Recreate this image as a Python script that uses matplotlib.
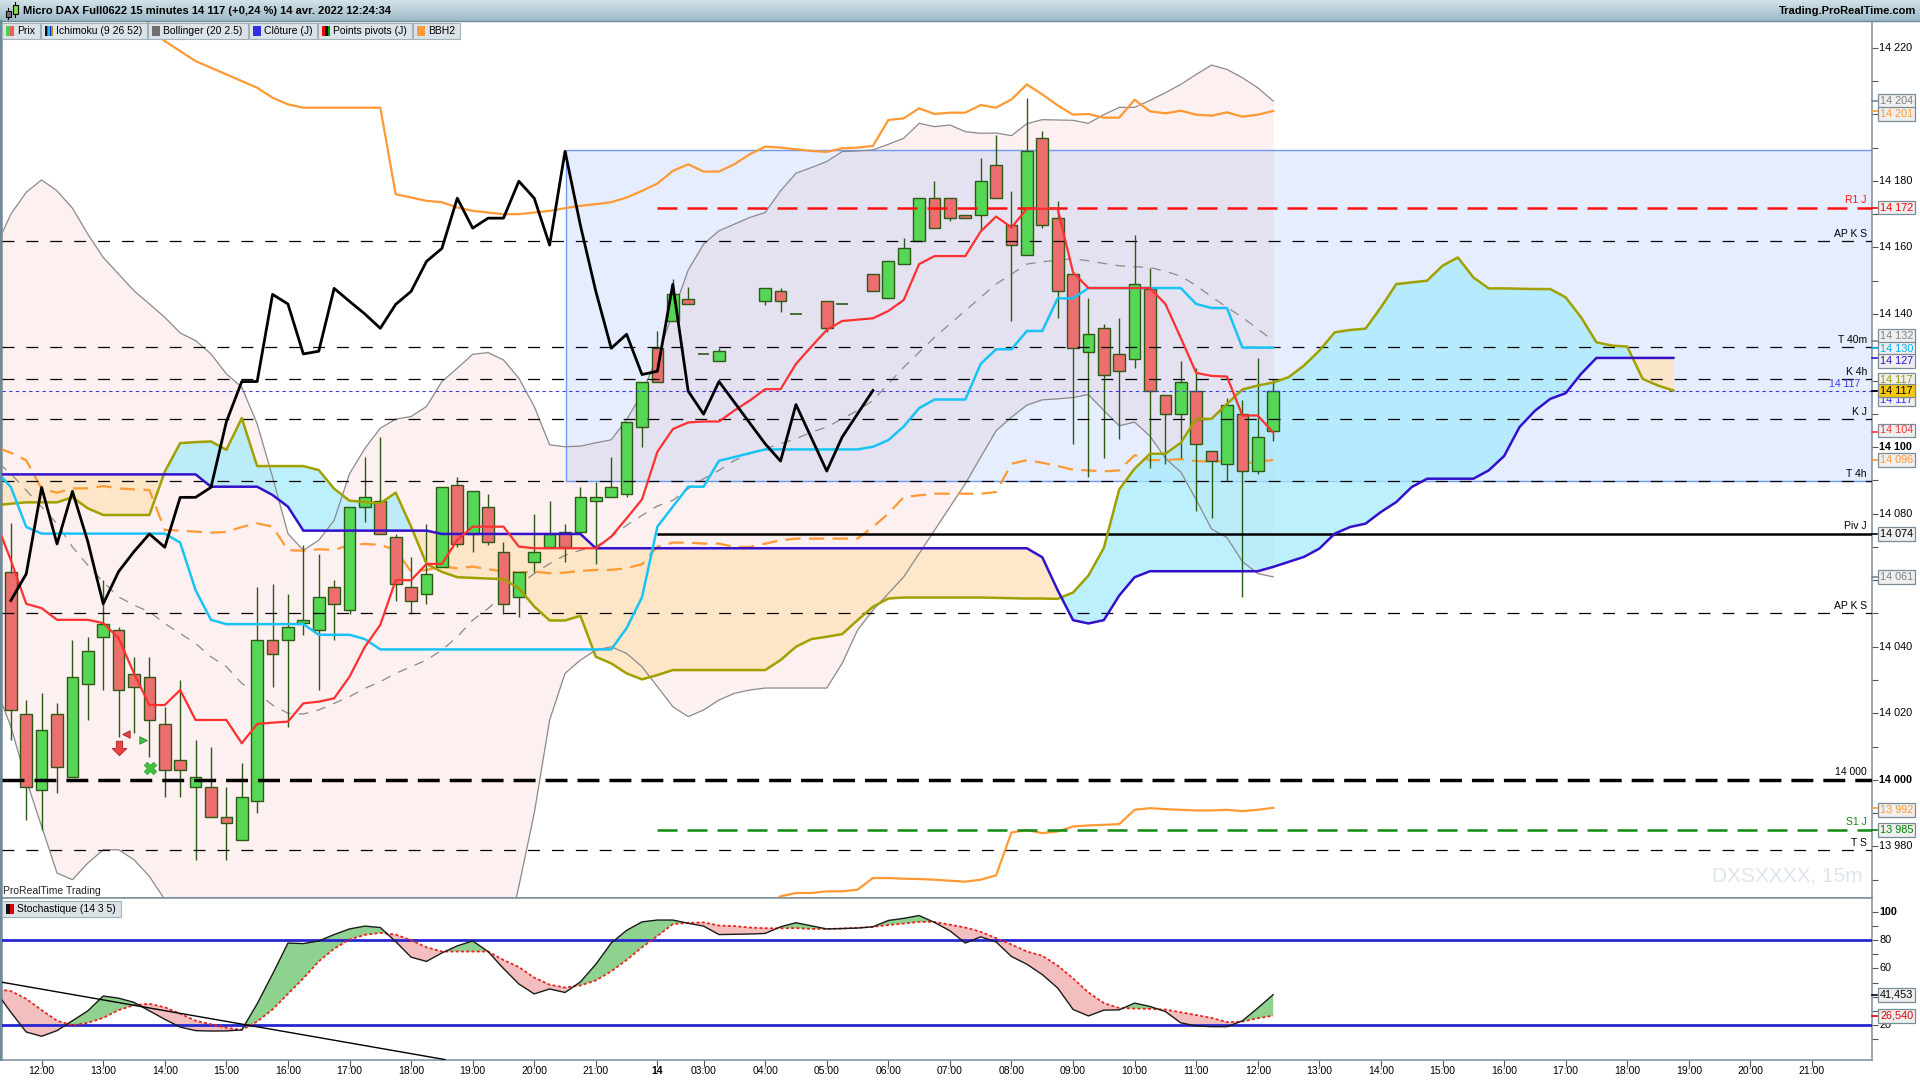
import numpy as np
import matplotlib
matplotlib.use("Agg")
import matplotlib.pyplot as plt
import matplotlib.transforms as mtransforms
from matplotlib.patches import Rectangle
from matplotlib.path import Path

plt.rcParams["font.family"] = ["Liberation Sans", "DejaVu Sans"]
plt.rcParams["lines.scale_dashes"] = False

# === DATA ===
# x = 15-minute slot, 0 = 12:00 on 13 April; empty slots have no trade
candle_slots = np.arange(-2, 81)
nan = np.nan
opens = [14062.6, 14019.7, 13997.0, 14019.7, 14000.8, 14028.8, 14042.9, 14045.0, 14031.7, 14030.8,
         14016.7, 14006.0, 13998.0, 13997.8, 13988.8, 13982.0, 13993.8, 14041.9, 14042.0, 14047.0,
         14045.0, 14057.9, 14051.1, 14081.9, 14083.7, 14072.9, 14057.9, 14055.9, 14063.9, 14088.7,
         14073.9, 14081.9, 14068.6, 14054.9, 14065.6, 14069.9, 14074.6, 14074.6, 14083.7, 14084.9,
         14085.9, 14105.9, 14129.7, 14137.9, 14144.4, 14128.0, 14125.8, nan, nan, 14143.8,
         14146.8, 14140.0, nan, 14143.8, 14142.9, nan, 14151.9, 14144.7, 14154.9, 14161.8,
         14174.8, 14174.8, 14169.7, 14169.7, 14184.7, 14166.6, 14157.6, 14192.8, 14168.7, 14152.0,
         14128.7, 14135.7, 14127.9, 14126.6, 14147.6, 14115.7, 14109.9, 14116.8, 14098.7, 14094.8,
         14109.9, 14092.8, 14104.9]
highs = [14077.1, 14024.0, 14026.0, 14023.0, 14042.0, 14043.0, 14060.0, 14046.0, 14037.0, 14037.0,
         14022.0, 14030.0, 14012.0, 14010.0, 13998.0, 14005.0, 14058.0, 14059.0, 14056.0, 14070.6,
         14068.0, 14060.0, 14081.9, 14097.1, 14103.1, 14073.9, 14067.0, 14076.9, 14087.9, 14091.1,
         14086.7, 14085.9, 14071.6, 14062.6, 14079.9, 14083.9, 14076.9, 14087.9, 14089.6, 14097.1,
         14107.6, 14119.7, 14135.0, 14150.5, 14148.0, 14128.0, 14129.7, nan, nan, 14147.7,
         14147.7, 14140.0, nan, 14143.8, 14142.9, nan, 14151.9, 14155.8, 14162.8, 14174.8,
         14180.1, 14174.8, 14169.7, 14186.8, 14193.8, 14177.0, 14205.0, 14194.9, 14174.0, 14152.0,
         14144.7, 14137.0, 14138.8, 14163.7, 14153.7, 14115.7, 14125.8, 14123.7, 14098.7, 14114.7,
         14114.2, 14126.8, 14120.6]
lows = [14012.0, 13988.0, 13985.0, 13996.0, 14000.8, 14018.0, 14027.0, 14013.0, 14014.0, 14007.0,
        13995.0, 13995.0, 13976.0, 13988.8, 13976.0, 13982.0, 13990.0, 14028.0, 14016.0, 14043.5,
        14027.0, 14042.0, 14049.9, 14077.6, 14073.9, 14053.9, 14049.9, 14052.9, 14063.9, 14069.9,
        14068.6, 14070.6, 14049.9, 14048.9, 14062.6, 14069.9, 14065.6, 14074.6, 14064.9, 14084.9,
        14084.9, 14099.9, 14119.7, 14137.9, 14143.0, 14128.0, 14125.8, nan, nan, 14142.8,
        14140.7, 14140.0, nan, 14134.7, 14142.9, nan, 14146.8, 14144.7, 14154.9, 14161.8,
        14165.8, 14167.8, 14168.8, 14165.3, 14174.8, 14137.8, 14157.6, 14165.9, 14138.7, 14100.8,
        14090.9, 14096.8, 14102.3, 14123.7, 14093.7, 14094.8, 14096.8, 14080.9, 14078.8, 14089.9,
        14055.0, 14092.0, 14101.8]
closes = [14021.0, 13997.8, 14015.0, 14003.8, 14030.8, 14038.8, 14046.8, 14027.0, 14027.8, 14018.0,
          14003.0, 14003.0, 14000.8, 13988.8, 13987.0, 13994.8, 14041.9, 14037.9, 14046.0, 14048.0,
          14054.9, 14052.9, 14081.9, 14084.9, 14073.9, 14058.9, 14053.9, 14061.9, 14087.9, 14070.9,
          14086.7, 14071.6, 14052.9, 14062.6, 14068.6, 14073.9, 14069.9, 14084.9, 14084.9, 14087.9,
          14107.6, 14119.7, 14119.7, 14145.9, 14143.0, 14128.0, 14128.8, nan, nan, 14147.7,
          14143.8, 14140.0, nan, 14135.7, 14142.9, nan, 14146.8, 14155.8, 14159.7, 14174.8,
          14165.8, 14168.8, 14168.8, 14179.9, 14174.8, 14160.7, 14188.9, 14166.6, 14146.8, 14129.7,
          14133.9, 14121.8, 14122.8, 14148.9, 14116.8, 14109.9, 14119.7, 14101.0, 14095.8, 14112.8,
          14092.8, 14103.0, 14117.0]

# indicators, slots -3 .. 80
ind_slots = np.arange(-3, 81)
tenkan = [14078, 14066, 14052.9, 14051.6, 14048.1, 14048.1, 14048.1, 14047.1, 14042.6, 14032,
          14022.5, 14022.5, 14027, 14018, 14018, 14018, 14011, 14016.8, 14017.2, 14017.5,
          14023, 14023.5, 14024.5, 14031, 14040, 14046.6, 14060, 14060, 14064.9, 14064.9,
          14072.1, 14076.1, 14076.1, 14076.1, 14070.1, 14069.6, 14069.6, 14069.6, 14069.6, 14069.6,
          14073.1, 14078.6, 14084.3, 14098.6, 14105.4, 14107.4, 14107.7, 14107.7, 14111, 14114,
          14117.4, 14117.4, 14125, 14130.2, 14135.2, 14137.9, 14138.3, 14138.7, 14140.9, 14144.2,
          14155, 14157.4, 14157.4, 14157.4, 14164.8, 14169.3, 14166, 14171.6, 14171.6, 14171.6,
          14152.5, 14147.8, 14147.8, 14147.8, 14147.8, 14147.8, 14143, 14132.8, 14122.3, 14121.4,
          14121.2, 14109.5, 14109.5, 14104.4]
kijun = [14093, 14088, 14076, 14074, 14074, 14074, 14074, 14074, 14074, 14074,
         14074, 14074, 14071.3, 14057, 14048.1, 14046.8, 14046.8, 14046.8, 14046.8, 14046.8,
         14046.8, 14043.6, 14043.6, 14043.6, 14042.3, 14039.2, 14039.2, 14039.2, 14039.2, 14039.2,
         14039.2, 14039.2, 14039.2, 14039.2, 14039.2, 14039.2, 14039.2, 14039.2, 14039.2, 14039.2,
         14039.2, 14045.6, 14054.9, 14076.1, 14082.1, 14088.1, 14088.1, 14095.9, 14097, 14098.2,
         14099.3, 14099.3, 14099.3, 14099.3, 14099.3, 14099.3, 14099.3, 14100.1, 14102.1, 14106.2,
         14111.7, 14114.3, 14114.3, 14114.3, 14125, 14129.4, 14129.4, 14134.9, 14134.9, 14144.7,
         14144.7, 14147.8, 14147.8, 14147.8, 14147.8, 14147.8, 14147.8, 14147.8, 14143, 14141.8,
         14141.8, 14129.9, 14129.9, 14129.9]
bb_upper = [14160, 14170, 14176.6, 14180.3, 14177, 14171.8, 14164, 14157, 14152, 14147,
            14143, 14139, 14134.3, 14132, 14128, 14122, 14118, 14107, 14091, 14074,
            14069, 14072, 14078, 14092, 14099.6, 14105.7, 14108.4, 14109.2, 14112.2, 14119.7,
            14123.7, 14127.9, 14128.4, 14126.2, 14120.7, 14112.2, 14100.7, 14100.1, 14100.3, 14101.3,
            14102.2, 14108.2, 14116.2, 14127.2, 14140.2, 14153.2, 14161, 14165, 14167, 14169,
            14170.5, 14177, 14182.3, 14184, 14185.8, 14188.8, 14189, 14189.3, 14191, 14192.8,
            14197.3, 14196.3, 14196.8, 14194.8, 14194.3, 14194.4, 14193.6, 14197.2, 14198.4, 14198.3,
            14198.2, 14197.3, 14199.9, 14202.1, 14202.1, 14204.2, 14206.5, 14209, 14212, 14214.8,
            14213.5, 14211, 14208, 14204]
bb_mid = [14096, 14092, 14087, 14082, 14077, 14070, 14064.5, 14059.5, 14055, 14052.5,
          14050.5, 14047, 14044, 14041, 14037, 14034, 14029, 14026, 14022.5, 14020,
          14019.8, 14021, 14023, 14025, 14027.5, 14029.5, 14032, 14034, 14036, 14039,
          14043, 14048, 14051.5, 14055.6, 14058.5, 14062, 14065, 14067.5, 14069, 14070.1,
          14073, 14076.5, 14079.5, 14082.3, 14084, 14087.5, 14090.5, 14093, 14096, 14098,
          14099.5, 14101, 14102.5, 14104.5, 14106, 14108.5, 14111, 14114, 14119, 14124,
          14128.5, 14133, 14137, 14141, 14145, 14149, 14152, 14155, 14155.7, 14156.2,
          14156.6, 14156, 14155.2, 14154.5, 14154.2, 14154, 14152.8, 14151.4, 14148.5, 14145.2,
          14142, 14139, 14135.5, 14132]
bb_lower = [14028, 14016, 14000, 13986, 13972, 13970, 13975, 13979, 13979, 13976,
            13971, 13964, 13958, 13952, 13948, 13946, 13945, 13944, 13944, 13943,
            13942, 13940, 13938, 13938, 13940, 13942, 13944, 13945, 13946, 13946,
            13946, 13945, 13944, 13948, 13968, 13990, 14018, 14032, 14036, 14039,
            14040, 14038, 14034, 14028, 14022, 14019, 14021, 14024, 14026, 14027,
            14027.6, 14027.6, 14027.6, 14027.6, 14027.6, 14035, 14045, 14051, 14056, 14061,
            14068, 14075, 14082, 14089, 14097, 14104.9, 14109, 14112.6, 14114.2, 14114.5,
            14114.9, 14115.8, 14111, 14106.4, 14107.5, 14103.3, 14096.6, 14092.5, 14084.2, 14075.4,
            14072.8, 14065.6, 14062, 14061]
bbh2_upper = [14240, 14240, 14240, 14240, 14240, 14240, 14240, 14240, 14240, 14240,
              14226, 14222, 14219, 14216, 14214, 14212, 14210, 14208, 14205, 14203,
              14202, 14202, 14202, 14202, 14202, 14202, 14176, 14175, 14174, 14173.6,
              14172, 14171, 14170.5, 14170, 14170, 14170.5, 14171, 14171.8, 14172.5, 14173,
              14173.6, 14175, 14177, 14179.2, 14183, 14185, 14182.8, 14182.8, 14185, 14188,
              14190.3, 14190, 14189.5, 14189, 14188.7, 14189.8, 14190, 14190.5, 14198.3, 14198.8,
              14201.8, 14200.1, 14200.5, 14200.5, 14202.8, 14202, 14204.5, 14209, 14206, 14202.7,
              14199.9, 14200.1, 14199, 14199, 14204.4, 14200.9, 14200.3, 14201.1, 14199.9, 14199.6,
              14200.6, 14199.3, 14199.9, 14201]
bbh2_mid = [14100, 14098.3, 14096, 14087.5, 14086.3, 14087.6, 14087.6, 14088.3, 14087.6, 14087.3,
            14087.1, 14075.1, 14074.9, 14074.6, 14074.3, 14074.5, 14076, 14077.1, 14076.1, 14069,
            14068.9, 14069.3, 14069.1, 14070.6, 14070.9, 14070.6, 14069.1, 14062.6, 14063.1, 14064.1,
            14063.6, 14064.1, 14063.3, 14062.6, 14062.3, 14062.6, 14062.1, 14062.3, 14062.8, 14063.1,
            14063.1, 14063.6, 14064.8, 14070.1, 14071.3, 14071.3, 14071, 14071, 14070, 14070,
            14071, 14072, 14072.5, 14072.5, 14072.5, 14072.5, 14072.5, 14076, 14080, 14085,
            14085.5, 14086, 14086, 14086, 14086, 14086.5, 14095, 14096.1, 14095.3, 14094.3,
            14093.2, 14093, 14092.7, 14093, 14097.6, 14096.1, 14096.1, 14096.4, 14095.8, 14095.6,
            14095.8, 14095, 14095.6, 14096.1]
bbh2_lower = [13958, 13956, 13954, 13950, 13948, 13948, 13947, 13947, 13946, 13946,
              13946, 13934, 13934, 13933, 13933, 13933, 13935, 13936, 13936, 13936,
              13936, 13937, 13937, 13938, 13939, 13939, 13951, 13952, 13954, 13955,
              13956, 13956, 13956, 13955, 13955, 13955, 13954, 13954, 13953, 13953,
              13953, 13953, 13952, 13954, 13956, 13957, 13958, 13957, 13957, 13958,
              13962, 13965, 13966, 13966, 13966.5, 13966.5, 13967, 13970.5, 13970.5, 13970.3,
              13970.2, 13970, 13969.7, 13969.4, 13970, 13971.3, 13984.2, 13984.9, 13984, 13984.5,
              13986, 13986.3, 13986.5, 13986.7, 13991, 13991.5, 13991.2, 13991, 13990.8, 13990.8,
              13991, 13990.6, 13991, 13991.6]
stoch_k = [44, 29, 15, 12, 16, 23, 30, 40.5, 39, 36,
           30, 24, 18.5, 16, 15.7, 15.8, 16.5, 35, 56, 78,
           77.6, 79.5, 84, 88, 90, 89, 79, 68, 65, 71,
           76, 79.5, 72, 60, 49, 42, 45.5, 43, 50.5, 63,
           78, 87, 93, 94.3, 94.3, 92, 90, 84, 84.2, 84.4,
           84.8, 89.5, 92.4, 90.2, 88, 88.3, 88.6, 89.5, 94, 95.5,
           97.5, 92.6, 86.7, 78, 82.4, 78.8, 68.5, 63, 55.7, 46.2,
           31, 26.4, 30.5, 30.7, 35.5, 33.1, 29.5, 21.5, 19.3, 18.8,
           18.8, 22.9, 32, 41.453]
stoch_d = [45.5, 44, 38.5, 30.5, 23, 19.8, 21.5, 25, 30.5, 34,
           35, 32.5, 28, 23, 20.5, 18, 16.5, 22.4, 31, 42,
           53, 65, 74, 80.5, 83.8, 85.2, 84, 80, 75, 72,
           72, 72, 72, 66, 61, 53.5, 48.5, 46.5, 48, 51.5,
           58, 66, 75, 83, 91.4, 92.3, 92.6, 90.4, 90, 89,
           88.5, 88.4, 88.6, 88, 88, 88.2, 88.8, 89.5, 90.8, 91.8,
           93, 93, 91, 89, 86, 81.5, 77, 72, 69, 62,
           53, 43, 35.5, 32, 31.6, 31.4, 30.9, 29, 27, 25,
           22, 22.4, 24.8, 26.54]

# Ichimoku cloud, projected 26 slots ahead: slots -3 .. 106
cloud_slots = np.arange(-3, 107)
senkou_a = [14082.5, 14083, 14083.4, 14083.4, 14083.4, 14084.9, 14081.6, 14079.6, 14079.6, 14079.6,
            14079.6, 14092.6, 14101.2, 14101.5, 14101.7, 14099.2, 14108.7, 14094.3, 14094.3, 14094.3,
            14094.3, 14093.1, 14087.5, 14083.9, 14083.5, 14083.1, 14086.3, 14076.1, 14064.9, 14062.5,
            14060.9, 14060.7, 14060.5, 14060.3, 14057.6, 14052.1, 14047.9, 14047.9, 14049.3, 14037,
            14035, 14032, 14030.2, 14031.5, 14033, 14033, 14033, 14033, 14033, 14033,
            14033, 14036, 14040, 14042.3, 14043, 14043.8, 14048, 14052, 14054.5, 14054.8,
            14054.8, 14054.8, 14054.8, 14054.8, 14054.8, 14054.7, 14054.6, 14054.5, 14054.5, 14054.4,
            14056.3, 14061.4, 14069.7, 14087.3, 14093.5, 14098, 14098, 14101.3, 14108.5, 14108.5,
            14113, 14117.3, 14118.5, 14119.4, 14121, 14124.5, 14129, 14134.5, 14135.2, 14135.6,
            14142, 14149, 14149.5, 14150, 14154.5, 14157, 14151, 14147.7, 14147.7, 14147.6,
            14147.5, 14147.5, 14145, 14139, 14131.5, 14130.5, 14130.2, 14120.5, 14118.5, 14117]
senkou_b = [14091.8, 14091.8, 14091.8, 14091.8, 14091.8, 14091.8, 14091.8, 14091.8, 14091.8, 14091.8,
            14091.8, 14091.8, 14091.8, 14091.8, 14088.1, 14088.1, 14088.1, 14088.1, 14085.6, 14082.1,
            14074.9, 14074.9, 14074.9, 14074.9, 14074.9, 14074.9, 14074.9, 14074.9, 14074.9, 14073.9,
            14073.9, 14073.9, 14073.9, 14073.9, 14073.9, 14073.9, 14073.9, 14073.9, 14073.9, 14069.6,
            14069.6, 14069.6, 14069.6, 14069.6, 14069.6, 14069.6, 14069.6, 14069.6, 14069.6, 14069.6,
            14069.6, 14069.6, 14069.6, 14069.6, 14069.6, 14069.6, 14069.6, 14069.6, 14069.6, 14069.6,
            14069.6, 14069.6, 14069.6, 14069.6, 14069.6, 14069.6, 14069.6, 14069.6, 14066.9, 14057,
            14048, 14047, 14048, 14055.4, 14060.9, 14062.7, 14062.7, 14062.7, 14062.7, 14062.7,
            14062.7, 14062.7, 14062.7, 14064, 14065.5, 14067, 14069.5, 14074, 14076, 14077,
            14080.5, 14083.5, 14088, 14090.5, 14090.5, 14090.5, 14090.5, 14093, 14097.3, 14106,
            14110.9, 14114.5, 14116.2, 14122, 14126.8, 14126.8, 14126.8, 14126.8, 14126.8, 14126.8]

# horizontal levels
level_values = [14162, 14130, 14120.5, 14108.5, 14089.8, 14050, 13979]
level_names = ["AP K S", "T 40m", "K 4h", "K J", "T 4h", "AP K S", "T S"]
round_level = 14000
pivot_values = [14172, 14074, 13985]
pivot_names = ["R1 J", "Piv J", "S1 J"]
pivot_start = 40
prev_close = 14117
zone_start, zone_low, zone_high = 34.05, 14089.8, 14189.2

# signal markers and the stochastic trend line
signal_x = [5.03, 5.5, 6.6, 7.05]
signal_y = [14009.5, 14013.7, 14012.0, 14003.5]
trend_x = [-2.7, 26.2]
trend_y = [50.5, -4.5]

tick_slots = [0, 4, 8, 12, 16, 20, 24, 28, 32, 36, 40, 43, 47, 51, 55, 59, 63, 67, 71, 75,
              79, 83, 87, 91, 95, 99, 103, 107, 111, 115]
tick_labels = ["12:00", "13:00", "14:00", "15:00", "16:00", "17:00", "18:00", "19:00", "20:00", "21:00",
               "14", "03:00", "04:00", "05:00", "06:00", "07:00", "08:00", "09:00", "10:00", "11:00",
               "12:00", "13:00", "14:00", "15:00", "16:00", "17:00", "18:00", "19:00", "20:00", "21:00"]
price_labels = [14220, 14180, 14160, 14140, 14100, 14080, 14040, 14020, 14000, 13980]

title = "Micro DAX Full0622 15 minutes 14 117 (+0,24 %) 14 avr. 2022 12:24:34"
legend_items = [("Prix", ["#4ccf4c", "#e86060"]),
                ("Ichimoku (9 26 52)", ["#111111", "#ff2a2a", "#19c3f5", "#3311cc", "#a0a000"]),
                ("Bollinger (20 2.5)", ["#6e6e6e"]),
                ("Clôture (J)", ["#3030e0"]),
                ("Points pivots (J)", ["#ff0000", "#111111", "#00a000"]),
                ("BBH2", ["#ff9a3c"])]

# === convert ===
o = np.array(opens, float); h = np.array(highs, float)
l = np.array(lows, float); c = np.array(closes, float)
tenkan = np.array(tenkan); kijun = np.array(kijun)
senkou_a = np.array(senkou_a); senkou_b = np.array(senkou_b)
stoch_k = np.array(stoch_k); stoch_d = np.array(stoch_d)

# chikou = close shifted back 26 traded bars
valid = ~np.isnan(c)
bar_x = candle_slots[valid]
bar_c = c[valid]
chikou_x = bar_x[:-26]
chikou_y = bar_c[26:]

# === figure layout (pixel frame of 1920x1080) ===
W, H = 1920.0, 1080.0
fig = plt.figure(figsize=(19.2, 10.8), dpi=100)


def frame(x0, y0, x1, y1):
    return [x0 / W, 1 - y1 / H, (x1 - x0) / W, (y1 - y0) / H]


ax = fig.add_axes(frame(2, 22, 1872, 898))
axs = fig.add_axes(frame(2, 898, 1872, 1060), sharex=ax)
ax.set_xlim(-2.575, 118.9)
ax.set_ylim(13964.5, 14227.75)
axs.set_ylim(-4.8, 109.9)
AXW = 1870.0
PPX = (14227.75 - 13964.5) / 876.0  # price per pixel

ytr = mtransforms.blended_transform_factory(ax.transAxes, ax.transData)
ytr_s = mtransforms.blended_transform_factory(axs.transAxes, axs.transData)
xtr_s = mtransforms.blended_transform_factory(axs.transData, axs.transAxes)

for a in (ax, axs):
    for side in ("left", "right", "bottom", "top"):
        a.spines[side].set_color("#7d8e98")
        a.spines[side].set_linewidth(1.1)
ax.spines["top"].set_visible(False)

# -----------------------------------------------------------
# Price panel: background zones
# -----------------------------------------------------------
ax.fill_between(ind_slots, bb_lower, bb_upper, color="#fdf0f0", lw=0, zorder=1)
ax.add_patch(Rectangle((zone_start, zone_low), 200, zone_high - zone_low,
                       fc=(0.5, 0.65, 0.98, 0.2), ec="#6e9bef", lw=1.0, zorder=1.5))
ax.fill_between(cloud_slots, senkou_a, senkou_b, where=senkou_a >= senkou_b, interpolate=True,
                color="#a6ebfc", alpha=0.75, lw=0, zorder=2)
ax.fill_between(cloud_slots, senkou_a, senkou_b, where=senkou_a < senkou_b, interpolate=True,
                color="#fee4c0", alpha=0.85, lw=0, zorder=2)

# -----------------------------------------------------------
# Horizontal levels
# -----------------------------------------------------------
for v, name in zip(level_values, level_names):
    ax.axhline(v, color="black", lw=0.9, dashes=(8.6, 8.6), zorder=5.5)
    ax.text(0.9973, v + 2 * PPX, name, transform=ytr, ha="right", va="bottom", fontsize=7.5, zorder=9)
ax.axhline(round_level, color="black", lw=2.5, dashes=(15.8, 7.2), zorder=5.5)
ax.text(0.9973, round_level + 3 * PPX, "14 000", transform=ytr, ha="right", va="bottom",
        fontsize=7.5, zorder=9)
ax.axhline(prev_close, color="#3a3ae0", lw=0.8, dashes=(2.4, 2.4), zorder=5.5)
ax.text(0.9936, prev_close + 1.5 * PPX, "14 117", transform=ytr, ha="right", va="bottom",
        fontsize=7.5, color="#3a3ae0", zorder=9)

pivot_colours = ["#ff1010", "black", "#108a10"]
for v, name, col in zip(pivot_values, pivot_names, pivot_colours):
    if name == "Piv J":
        ax.hlines(v, pivot_start, 130, color=col, lw=1.8, zorder=5.5)
    else:
        ax.hlines(v, pivot_start, 130, color=col, lw=1.8, linestyles=(0, (14.4, 7.2)), zorder=5.5)
    ax.text(0.9973, v + 2.5 * PPX, name, transform=ytr, ha="right", va="bottom", fontsize=7.5,
            color=col, zorder=9)

# -----------------------------------------------------------
# Bollinger and BBH2 bands
# -----------------------------------------------------------
ax.plot(ind_slots, bb_upper, color="#8a8a8a", lw=0.9, zorder=4)
ax.plot(ind_slots, bb_lower, color="#8a8a8a", lw=0.9, zorder=4)
ax.plot(ind_slots, bb_mid, color="#8a8a8a", lw=0.9, dashes=(7, 6), zorder=4)
ax.plot(ind_slots, bbh2_upper, color="#ff9933", lw=1.6, zorder=4)
ax.plot(ind_slots, bbh2_lower, color="#ff9933", lw=1.6, zorder=4)
ax.plot(ind_slots, bbh2_mid, color="#ff9933", lw=1.6, dashes=(11, 6), zorder=4)

# -----------------------------------------------------------
# Candles
# -----------------------------------------------------------
edge = "#2d5a14"
up = valid & (c > o)
dn = valid & (c < o)
flat = valid & (c == o)
ax.vlines(candle_slots[valid], l[valid], h[valid], color=edge, lw=1.0, zorder=5)
ax.bar(candle_slots[up], c[up] - o[up], bottom=o[up], width=0.76, color="#55d655",
       edgecolor=edge, lw=1.0, zorder=5.1)
ax.bar(candle_slots[dn], o[dn] - c[dn], bottom=c[dn], width=0.76, color="#ec6e6e",
       edgecolor=edge, lw=1.0, zorder=5.1)
ax.hlines(c[flat], candle_slots[flat] - 0.38, candle_slots[flat] + 0.38, color=edge, lw=1.2, zorder=5.1)

# -----------------------------------------------------------
# Ichimoku lines
# -----------------------------------------------------------
ax.plot(cloud_slots, senkou_a, color="#a0a000", lw=1.8, zorder=6)
ax.plot(cloud_slots, senkou_b, color="#3311cc", lw=1.8, zorder=6)
ax.plot(ind_slots, kijun, color="#19c3f5", lw=1.8, zorder=6.1)
ax.plot(ind_slots, tenkan, color="#ff3030", lw=1.6, zorder=6.2)
ax.plot(chikou_x, chikou_y, color="black", lw=2.0, zorder=7)

# signals
arrow = Path([(-0.22, 0.5), (0.22, 0.5), (0.22, 0.0), (0.5, 0.0), (0.0, -0.5), (-0.5, 0.0),
              (-0.22, 0.0), (-0.22, 0.5)],
             [Path.MOVETO] + [Path.LINETO] * 6 + [Path.CLOSEPOLY])
ax.scatter(signal_x[0], signal_y[0], marker=arrow, s=110, c="#e84545", edgecolors="#b02020",
           linewidths=0.6, zorder=8)
ax.scatter(signal_x[1], signal_y[1], marker="<", s=28, c="#e84545", edgecolors="#a01818",
           linewidths=0.6, zorder=8)
ax.scatter(signal_x[2], signal_y[2], marker=">", s=28, c="#40c840", edgecolors="#208020",
           linewidths=0.6, zorder=8)
ax.scatter(signal_x[3], signal_y[3], marker="X", s=80, c="#3cc43c", edgecolors="#2a9a2a",
           linewidths=0.5, zorder=8)

# -----------------------------------------------------------
# Right price scale
# -----------------------------------------------------------
ax.yaxis.tick_right()
ax.set_yticks(np.arange(13970, 14230, 10))
ax.tick_params(axis="y", length=4, width=0.8, color="#555555", labelright=False)
ax.tick_params(axis="x", bottom=False, labelbottom=False)


def fmt(v):
    return f"{int(round(v)):,}".replace(",", " ")


for v in price_labels:
    ax.text(1 + 7 / AXW, v, fmt(v), transform=ytr, ha="left", va="center", fontsize=7.8,
            fontweight="bold" if v in (14100, 14000) else "normal", clip_on=False)

grey_bg = "#efefef"
tags = [
    (bb_upper[-1], "#808080", grey_bg, 0, 10),
    (bbh2_upper[-1], "#ff9933", grey_bg, 3, 10),
    (pivot_values[0], "#ff0000", grey_bg, 0, 10),
    (bb_mid[-1], "#808080", grey_bg, -5, 10),
    (kijun[-1], "#00b0f0", grey_bg, 1, 10.1),
    (senkou_b[-1], "#3311cc", grey_bg, 3, 10.2),
    (senkou_a[-1], "#999900", grey_bg, -11, 10.3),
    (prev_close, "#3333ff", grey_bg, 9, 10.3),
    (c[-1], "black", "#f6c90e", 0, 10.5),
    (tenkan[-1], "#ff3333", grey_bg, -2, 10),
    (bbh2_mid[-1], "#ff9933", grey_bg, 0, 10),
    (pivot_values[1], "black", grey_bg, 0, 10),
    (bb_lower[-1], "#808080", grey_bg, 0, 10),
    (bbh2_lower[-1], "#ff9933", grey_bg, 2, 10),
    (pivot_values[2], "#008000", grey_bg, 0, 10),
]
for v, col, bg, shift, z in tags:
    ax.plot([1, 1 + 5 / AXW], [v, v], transform=ytr, color=col, lw=1.2, clip_on=False, zorder=z)
    ax.text(1 + 8 / AXW, v - shift * PPX, fmt(v), transform=ytr, ha="left", va="center",
            fontsize=7.8, color=col, clip_on=False, zorder=z,
            bbox=dict(boxstyle="square,pad=0.18", fc=bg, ec="#7b8b95", lw=0.9))

# -----------------------------------------------------------
# Stochastic panel
# -----------------------------------------------------------
axs.fill_between(ind_slots, stoch_k, stoch_d, where=stoch_k >= stoch_d, interpolate=True,
                 color="#8fd18f", lw=0, zorder=2)
axs.fill_between(ind_slots, stoch_k, stoch_d, where=stoch_k < stoch_d, interpolate=True,
                 color="#f2bebe", lw=0, zorder=2)
axs.axhline(80, color="#2626d0", lw=2.0, zorder=3)
axs.axhline(20, color="#2626d0", lw=2.0, zorder=3)
axs.plot(ind_slots, stoch_d, color="#e8271f", lw=1.3, dashes=(2.2, 1.6), zorder=4)
axs.plot(ind_slots, stoch_k, color="#1a1a1a", lw=1.0, zorder=5)
axs.plot(trend_x, trend_y, color="black", lw=1.0, zorder=6)

axs.yaxis.tick_right()
axs.set_yticks(np.arange(10, 101, 10))
axs.tick_params(axis="y", length=4, width=0.8, color="#555555", labelright=False)
for v in (100, 80, 60, 20):
    axs.text(1 + 7 / AXW, v, str(v), transform=ytr_s, ha="left", va="center", fontsize=7.8,
             fontweight="bold" if v == 100 else "normal", clip_on=False)
for v, col in ((stoch_k[-1], "black"), (stoch_d[-1], "#e00000")):
    axs.plot([1, 1 + 5 / AXW], [v, v], transform=ytr_s, color=col, lw=1.2, clip_on=False, zorder=10)
    axs.text(1 + 8 / AXW, v, f"{v:.3f}".replace(".", ","), transform=ytr_s, ha="left", va="center",
             fontsize=7.8, color=col, clip_on=False, zorder=10,
             bbox=dict(boxstyle="square,pad=0.18", fc=grey_bg, ec="#7b8b95", lw=0.9))

axs.set_xticks(tick_slots)
axs.tick_params(axis="x", direction="out", length=5, width=0.8, color="#555555", labelbottom=False)
for x, lab in zip(tick_slots, tick_labels):
    axs.text(x, -0.068, lab, transform=xtr_s, ha="center", va="center", fontsize=7.5,
             fontweight="bold" if lab == "14" else "normal", clip_on=False)

# -----------------------------------------------------------
# Overlay: title bar, legends, watermark
# -----------------------------------------------------------
ov = fig.add_axes([0, 0, 1, 1])
ov.patch.set_alpha(0)
grad = np.linspace(0, 1, 21)[:, None, None]
top_c = np.array([0.82, 0.885, 0.91])
bot_c = np.array([0.62, 0.73, 0.78])
img = top_c * (1 - grad) + bot_c * grad
ov.imshow(np.repeat(img, 2, axis=1), extent=(0, W, 21, 0), aspect="auto", zorder=1)
ov.set_xlim(0, W)
ov.set_ylim(H, 0)
ov.axis("off")
ov.plot([0, W], [21, 21], color="#6f8a98", lw=1, zorder=2)
ov.plot([1, 1], [21, 1060], color="#6f8a98", lw=1.5, zorder=2)

# candle icon in the title bar
ov.plot([8, 8], [8, 19], color="black", lw=0.8, zorder=3)
ov.add_patch(Rectangle((5.5, 10.5), 5, 6, fc="#777777", ec="black", lw=0.8, zorder=4))
ov.plot([15, 15], [2, 17], color="black", lw=0.8, zorder=3)
ov.add_patch(Rectangle((12.5, 4.5), 5, 9, fc="#7ee03c", ec="black", lw=0.8, zorder=4))
ov.text(23, 11, title, fontsize=8, fontweight="bold", va="center", ha="left", zorder=5)
ov.text(1916, 11, "Trading.ProRealTime.com", fontsize=8, fontweight="bold", va="center",
        ha="right", zorder=5)

renderer = fig.canvas.get_renderer()


def legend_box(x, ytop, name, colours):
    t = ov.text(x + 15, ytop + 8, name, fontsize=7.5, va="center", ha="left", zorder=21)
    w = t.get_window_extent(renderer).width
    bw = 15 + w + 5
    ov.add_patch(Rectangle((x, ytop), bw, 16, fc="#dce3e8", ec="#a3b1ba", lw=0.8, zorder=20))
    iw = 8.0 / len(colours)
    for k, col in enumerate(colours):
        ov.add_patch(Rectangle((x + 4 + k * iw, ytop + 3), iw, 10, fc=col, ec="none", zorder=21))
    return x + bw + 1


xpos = 2.0
for name, colours in legend_items:
    xpos = legend_box(xpos, 22.5, name, colours)
legend_box(2.0, 900.5, "Stochastique (14 3 5)", ["#111111", "#e00000"])

ov.text(3, 891, "ProRealTime Trading", fontsize=7.5, va="center", ha="left", color="#222222", zorder=5)
ov.text(1787, 876, "DXSXXXX, 15m", fontsize=15, va="center", ha="center", color="#dfe5ec", zorder=0.5)

fig.savefig("out.png", dpi=100)
